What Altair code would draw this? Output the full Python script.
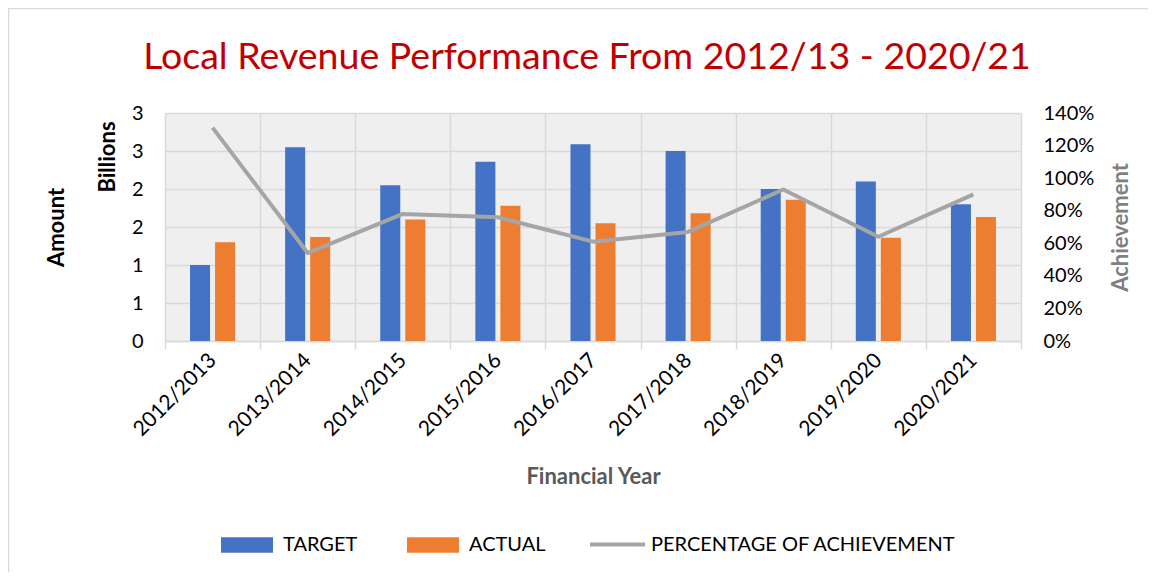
import altair as alt
import pandas as pd

years = ["2012/2013", "2013/2014", "2014/2015", "2015/2016", "2016/2017",
         "2017/2018", "2018/2019", "2019/2020", "2020/2021"]
target = [1.00, 2.55, 2.05, 2.36, 2.59, 2.50, 2.00, 2.10, 1.80]
actual = [1.30, 1.37, 1.60, 1.78, 1.55, 1.68, 1.86, 1.36, 1.63]
achievement = [1.31, 0.54, 0.78, 0.76, 0.61, 0.67, 0.93, 0.64, 0.90]
series_names = ["TARGET", "ACTUAL"]
series_colors = ["#4472C4", "#ED7D31"]
line_name = "PERCENTAGE OF ACHIEVEMENT"
left_ticks = [0, 0.5, 1.0, 1.5, 2.0, 2.5, 3.0]
right_ticks = [0, 0.2, 0.4, 0.6, 0.8, 1.0, 1.2, 1.4]

FONT = "Lato"
GRID = "#D9D9D9"
W, H = 856, 228

rows = []
for y, t, a in zip(years, target, actual):
    rows.append({"year": y, "series": "TARGET", "value": t})
    rows.append({"year": y, "series": "ACTUAL", "value": a})
bars_df = pd.DataFrame(rows)
line_df = pd.DataFrame({"year": years, "pct": achievement, "series": [line_name] * len(years)})

xenc = alt.X(
    "year:N", sort=years,
    scale=alt.Scale(paddingInner=0, paddingOuter=0),
    axis=alt.Axis(
        title="Financial Year", titleColor="#595959", titleFontWeight="bold",
        titleFontSize=22, titleFont=FONT, titleY=135, titleBaseline="middle",
        labelAngle=315, labelAlign="right", labelBaseline="middle",
        labelFontSize=21, labelFont=FONT, labelColor="#000000", labelPadding=8,
        tickBand="extent", grid=True, gridColor=GRID, gridWidth=1.5,
        domainColor=GRID, domainWidth=1.5, tickColor=GRID, tickWidth=1.5, tickSize=8,
    ),
)

one = alt.Data(values=[{"k": 1}])

bars = alt.Chart(bars_df).mark_bar().encode(
    x=xenc,
    xOffset=alt.XOffset("series:N", sort=series_names,
                        scale=alt.Scale(domain=series_names, paddingInner=0.2, paddingOuter=1.0)),
    y=alt.Y("value:Q", scale=alt.Scale(domain=[0, 3], nice=False),
            axis=alt.Axis(values=left_ticks, labelExpr="round(datum.value)",
                          title="Amount", titleFont=FONT, titleFontSize=22, titleFontWeight="bold",
                          titleColor="#000000", titleX=-109, titleY=114, titleAngle=270,
                          titleAlign="center", titleBaseline="middle",
                          labelFont=FONT, labelFontSize=20, labelColor="#000000", labelPadding=22,
                          ticks=False, domain=False, grid=True, gridColor=GRID, gridWidth=1.5)),
    color=alt.Color("series:N", sort=series_names,
                    scale=alt.Scale(domain=series_names, range=series_colors),
                    legend=alt.Legend(title=None, orient="none", direction="horizontal",
                                      legendX=56, legendY=406,
                                      symbolType="M-1,-0.3H1V0.3H-1Z", symbolSize=2704,
                                      symbolStrokeWidth=0, labelFont=FONT, labelFontSize=20,
                                      labelColor="#000000", labelOffset=10, columnPadding=49,
                                      labelLimit=500)),
)

line = alt.Chart(line_df).mark_line(strokeWidth=4, strokeJoin="round").encode(
    x=xenc,
    y=alt.Y("pct:Q", scale=alt.Scale(domain=[0, 1.4], nice=False),
            axis=alt.Axis(orient="right", values=right_ticks, format=".0%",
                          title="Achievement", titleFont=FONT, titleFontSize=22, titleFontWeight="bold",
                          titleColor="#7F7F7F", titleX=99, titleY=114, titleAngle=270,
                          titleAlign="center", titleBaseline="middle",
                          labelFont=FONT, labelFontSize=20, labelColor="#000000", labelPadding=22,
                          ticks=False, domain=False, grid=False)),
    stroke=alt.Stroke("series:N", scale=alt.Scale(domain=[line_name], range=["#A5A5A5"]),
                      legend=alt.Legend(title=None, orient="none", direction="horizontal",
                                        legendX=423, legendY=402,
                                        symbolType="stroke", symbolSize=3025, symbolStrokeWidth=4,
                                        labelFont=FONT, labelFontSize=20, labelColor="#000000",
                                        labelOffset=4, labelLimit=500)),
)

billions = alt.Chart(one).mark_text(angle=270, font=FONT, fontSize=22, fontWeight="bold",
                                     color="#000000", align="center", baseline="middle").encode(
    x=alt.value(-57), y=alt.value(44), text=alt.value("Billions"))

border_top = alt.Chart(one).mark_rule(color=GRID, strokeWidth=1.5).encode(
    x=alt.value(-157), x2=alt.value(990), y=alt.value(-104.5))
border_left = alt.Chart(one).mark_rule(color=GRID, strokeWidth=1.5).encode(
    x=alt.value(-156.5), y=alt.value(-105), y2=alt.value(460))

chart = alt.layer(border_top, border_left, bars, line, billions).resolve_scale(
    y="independent"
).properties(
    width=W, height=H,
    autosize=alt.AutoSizeParams(type="none"),
    padding={"left": 157, "top": 105, "right": 127, "bottom": 231},
    title=alt.Title("Local Revenue Performance From 2012/13 - 2020/21", font=FONT, fontSize=37.5,
                    fontWeight="normal", color="#C00000", anchor="middle", frame="group",
                    baseline="alphabetic", offset=-99, dx=-6),
).configure_view(fill="#EFEFEF", stroke=None)

chart.save("out.html", embed_options={"renderer": "svg", "actions": False})
